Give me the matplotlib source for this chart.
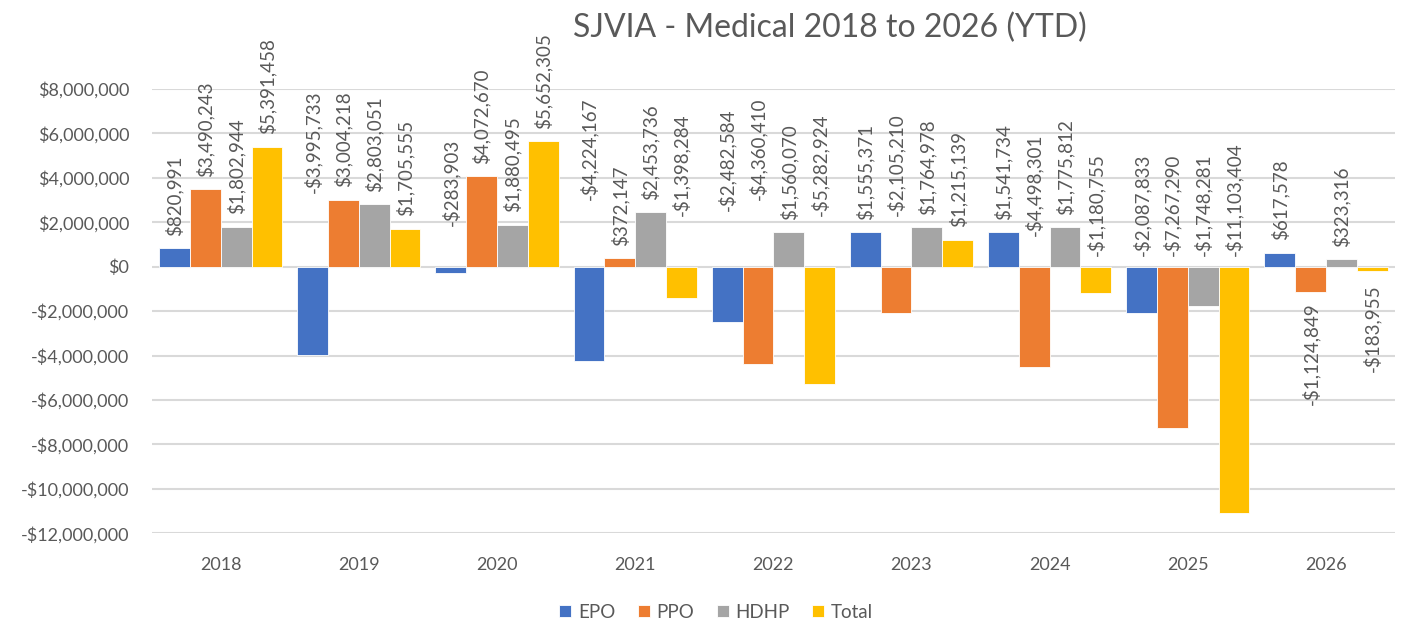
import numpy as np
import matplotlib
matplotlib.use("Agg")
import matplotlib.pyplot as plt
from matplotlib.ticker import FuncFormatter

plt.rcParams['font.family'] = ['Lato', 'DejaVu Sans']

years = ['2018', '2019', '2020', '2021', '2022', '2023', '2024', '2025', '2026']
epo = [820991, -3995733, -283903, -4224167, -2482584, 1555371, 1541734, -2087833, 617578]
ppo = [3490243, 3004218, 4072670, 372147, -4360410, -2105210, -4498301, -7267290, -1124849]
hdhp = [1802944, 2803051, 1880495, 2453736, 1560070, 1764978, 1775812, -1748281, 323316]
total = [5391458, 1705555, 5652305, -1398284, -5282924, 1215139, -1180755, -11103404, -183955]

series_names = ['EPO', 'PPO', 'HDHP', 'Total']
colors = ['#4472C4', '#ED7D31', '#A5A5A5', '#FFC000']

# where the labels of negative bars sit (in $M), as placed in the original
epo_lbl = [None, 3.3, 1.85, 3.0, 2.5, None, None, 0.5, None]
ppo_lbl = [None, None, None, None, 3.0, 2.3, 1.4, 0.5, -1.6]
hdhp_lbl = [None, None, None, None, None, None, None, 0.5, None]
total_lbl = [None, None, None, 2.3, 2.3, None, 0.5, 0.5, -0.8]

txt = '#595959'
grid = '#D9D9D9'


def money(v, pos=None):
    if v < 0:
        return f"-${abs(v):,.0f}"
    return f"${v:,.0f}"


fig = plt.figure(figsize=(14.04, 6.26), dpi=100)
ax = fig.add_axes([0.108, 0.148, 0.8856, 0.71])

x = np.arange(len(years))
w = 0.223
data = [epo, ppo, hdhp, total]
lbls = [epo_lbl, ppo_lbl, hdhp_lbl, total_lbl]

for i, (vals, name, c, lp) in enumerate(zip(data, series_names, colors, lbls)):
    xs = x + (i - 1.5) * w
    ax.bar(xs, vals, width=w, color=c, label=name, edgecolor='white', linewidth=0.6, zorder=3)
    for xi, v, l in zip(xs, vals, lp):
        if v >= 0:
            ax.annotate(money(v), (xi, v), xytext=(0, 9), textcoords='offset points',
                        rotation=90, ha='center', va='bottom', fontsize=13.5, color=txt,
                        annotation_clip=False)
        elif l is not None and l > 0:
            ax.text(xi, l * 1e6, money(v), rotation=90, ha='center', va='bottom',
                    fontsize=13.5, color=txt, clip_on=False)
        else:
            ax.text(xi, l * 1e6, money(v), rotation=90, ha='center', va='top',
                    fontsize=13.5, color=txt, clip_on=False)

ax.set_ylim(-12e6, 8e6)
ax.set_xlim(-0.5, len(years) - 0.5)
ax.set_yticks(np.arange(-12e6, 8.1e6, 2e6))
ax.yaxis.set_major_formatter(FuncFormatter(money))
ax.set_xticks(x)
ax.set_xticklabels(years)
ax.tick_params(axis='both', length=0, labelsize=13, colors=txt)
ax.tick_params(axis='y', pad=16)
ax.tick_params(axis='x', pad=17)
ax.grid(axis='y', color=grid, linewidth=1.5, zorder=0)
for s in ax.spines.values():
    s.set_visible(False)

fig.suptitle("SJVIA - Medical 2018 to 2026 (YTD)", x=0.591, y=0.98, fontsize=23, color=txt)

fig.legend(loc='center', bbox_to_anchor=(0.51, 0.022), ncol=4, frameon=False,
           fontsize=13.5, labelcolor=txt, handlelength=0.65, handleheight=0.65,
           handletextpad=0.35, columnspacing=1.2)

fig.savefig("out.png", dpi=100)
